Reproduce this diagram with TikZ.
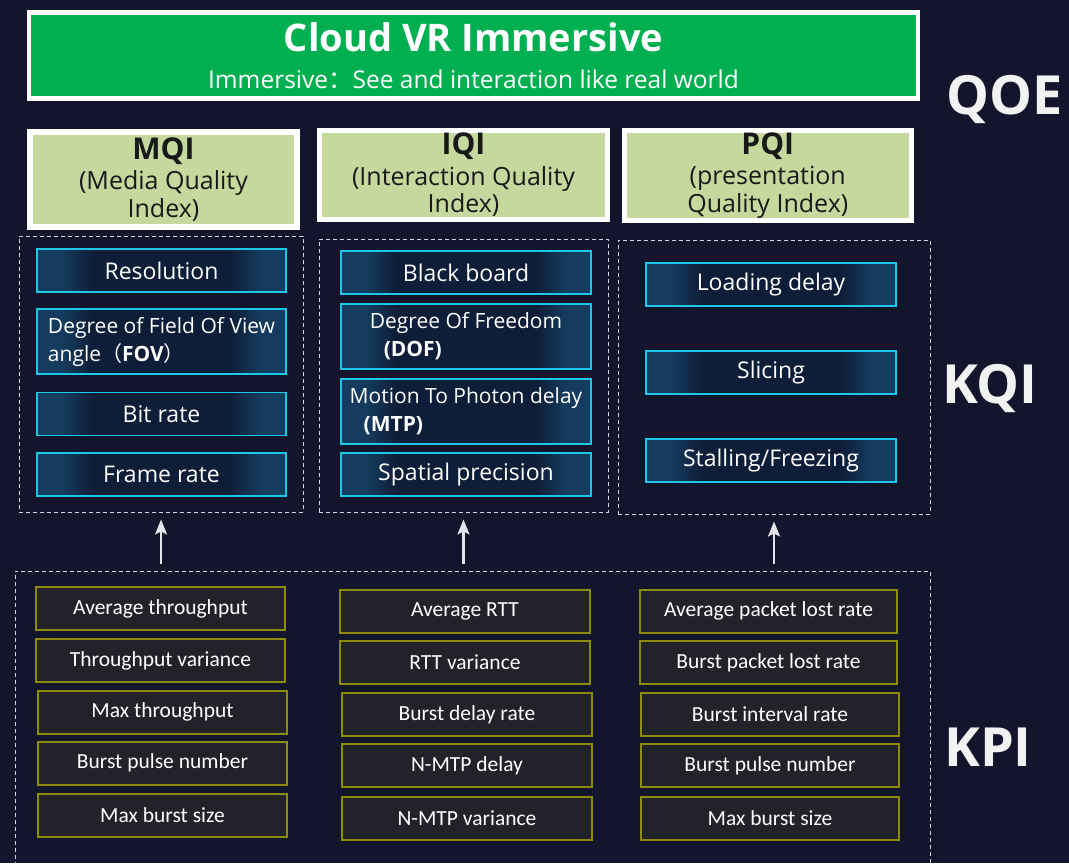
\documentclass[tikz,border=0pt]{standalone}
\usepackage{fontspec}
\setmainfont{Open Sans}
\newfontfamily\kpifont{Carlito}
\newfontfamily\cjk{Noto Sans CJK SC}
\usetikzlibrary{arrows.meta}
\definecolor{bg}{RGB}{18,21,43}
\definecolor{titlegreen}{RGB}{0,176,80}
\definecolor{idxgreen}{RGB}{197,216,158}
\definecolor{kqiedge}{RGB}{21,60,95}
\definecolor{kqimid}{RGB}{14,30,56}
\definecolor{kqiline}{RGB}{28,200,232}
\definecolor{kpiline}{RGB}{140,140,8}
\definecolor{kpifill}{RGB}{34,35,42}
\definecolor{dashc}{RGB}{210,212,220}
\definecolor{labc}{RGB}{242,242,242}
\pgfdeclarehorizontalshading{kqishade}{100bp}{color(0bp)=(kqiedge); color(25bp)=(kqiedge); color(30bp)=(kqiedge); color(36bp)=(kqimid); color(64bp)=(kqimid); color(70bp)=(kqiedge); color(75bp)=(kqiedge); color(100bp)=(kqiedge)}
\tikzset{
  titlebox/.style={draw=white, line width=4.5pt, fill=titlegreen, text=white, inner sep=0pt, align=center, font=\fontsize{24.5}{37}\selectfont},
  idxbox/.style={draw=white, fill=idxgreen, text={black!90}, inner sep=0pt, align=center, font=\fontsize{25}{27.5}\selectfont},
  container/.style={draw=dashc, line width=1pt, dash pattern=on 4pt off 3pt, inner sep=0pt},
  kqibox/.style={draw=kqiline, line width=1.5pt, shading=kqishade, text=white, inner sep=0pt, minimum height=43pt, font=\fontsize{23}{26}\selectfont},
  kqitwo/.style={kqibox, minimum height=65pt, font=\fontsize{21}{28}\selectfont, align=left},
  kpibox/.style={draw=kpiline, line width=2pt, fill=kpifill, text=white, inner sep=0pt, minimum height=43pt, font=\kpifont\fontsize{21.5}{24}\selectfont},
  layer/.style={text=labc, font=\bfseries\fontsize{54}{60}\selectfont, inner sep=0pt},
  arr/.style={draw={rgb,255:red,228;green,228;blue,232}, line width=2.2pt, -{Stealth[length=15pt,width=12pt,inset=3pt]}, shorten >=7pt, shorten <=7pt}
}
\begin{document}
\begin{tikzpicture}[x=1pt,y=-1pt]
\clip (0,0) rectangle (1069,863);
\fill[bg] (0,0) rectangle (1069,863);

% QoE
\node[titlebox, minimum width=889pt, minimum height=86pt] (title) at (473.5,55.5)
  {{\fontsize{38}{40}\selectfont\bfseries Cloud VR Immersive}\\
   Immersive{\cjk ：}See and interaction like real world};
\node[layer] (qoe) at (1005,100) {QOE};

\node[idxbox, line width=6pt, minimum width=267pt, minimum height=95pt] (mqi) at (163.5,179.5)
  {{\fontsize{30}{30}\selectfont\bfseries MQI}\\[3pt](Media Quality\\Index)};
\node[idxbox, line width=5pt, minimum width=288pt, minimum height=88.5pt] (iqi) at (463.5,174.75)
  {{\fontsize{30}{30}\selectfont\bfseries IQI}\\[3pt](Interaction Quality\\Index)};
\node[idxbox, line width=5pt, minimum width=286.5pt, minimum height=89.5pt] (pqi) at (767.75,175.25)
  {{\fontsize{30}{30}\selectfont\bfseries PQI}\\[3pt](presentation\\Quality Index)};

% KQI containers
\node[container, minimum width=284pt, minimum height=276pt] (kqiL) at (161,374) {};
\node[container, minimum width=289pt, minimum height=273pt] (kqiM) at (463.5,375.5) {};
\node[container, minimum width=312pt, minimum height=274pt] (kqiR) at (774,377) {};
\node[layer] (kqi) at (990,389) {KQI};

% KQI boxes left
\node[kqibox, minimum width=249pt] (res) at (161.5,270.5) {Resolution};
\node[kqitwo, minimum width=249pt] (fov) at (161.5,341.5)
  {Degree of Field Of View\\angle{\cjk （}\textbf{FOV}{\cjk ）}};
\node[kqibox, minimum width=249pt] (bit) at (161.5,414) {Bit rate};
\node[kqibox, minimum width=249pt] (frame) at (161.5,474.5) {Frame rate};

% KQI boxes middle
\node[kqibox, minimum width=250pt] (black) at (466,272.5) {Black board};
\node[kqitwo, minimum width=250pt] (dof) at (466,336.5)
  {Degree Of Freedom\\\hspace*{14pt}\textbf{(DOF)}};
\node[kqitwo, minimum width=250pt] (mtp) at (466,411.5)
  {Motion To Photon delay\\\hspace*{14pt}\textbf{(MTP)}};
\node[kqibox, minimum width=250pt] (spat) at (466,474.5) {Spatial precision};

% KQI boxes right
\node[kqibox, minimum width=250pt] (load) at (771,284.5) {Loading delay};
\node[kqibox, minimum width=250pt] (slice) at (771,372.5) {Slicing};
\node[kqibox, minimum width=250pt] (stall) at (771,460.5) {Stalling/Freezing};

% KPI container
\node[container, minimum width=915pt, minimum height=329pt] (kpiC) at (472.5,735.5) {};
\node[layer] (kpi) at (988,747) {KPI};

% KPI boxes left
\node[kpibox, minimum width=249pt] (k11) at (160.5,608.5) {Average throughput};
\node[kpibox, minimum width=249pt] (k12) at (160.5,660.5) {Throughput variance};
\node[kpibox, minimum width=249pt] (k13) at (162.5,712) {Max throughput};
\node[kpibox, minimum width=249pt] (k14) at (162.5,763) {Burst pulse number};
\node[kpibox, minimum width=249pt] (k15) at (162.5,815.5) {Max burst size};

% KPI boxes middle
\node[kpibox, minimum width=250pt] (k21) at (465,611) {Average RTT};
\node[kpibox, minimum width=250pt] (k22) at (465,662.5) {RTT variance};
\node[kpibox, minimum width=250pt] (k23) at (467,714.5) {Burst delay rate};
\node[kpibox, minimum width=250pt] (k24) at (467,765.5) {N-MTP delay};
\node[kpibox, minimum width=250pt] (k25) at (467,818.5) {N-MTP variance};

% KPI boxes right
\node[kpibox, minimum width=257pt] (k31) at (768.5,611) {Average packet lost rate};
\node[kpibox, minimum width=257pt] (k32) at (768.5,662.5) {Burst packet lost rate};
\node[kpibox, minimum width=258pt] (k33) at (770,714.5) {Burst interval rate};
\node[kpibox, minimum width=258pt] (k34) at (770,765.5) {Burst pulse number};
\node[kpibox, minimum width=258pt] (k35) at (770,818.5) {Max burst size};

% arrows KPI -> KQI
\draw[arr] (kpiC.north -| kqiL.south) -- (kqiL.south);
\draw[arr] (kpiC.north -| kqiM.south) -- (kqiM.south);
\draw[arr] (kpiC.north -| kqiR.south) -- (kqiR.south);
\end{tikzpicture}
\end{document}
